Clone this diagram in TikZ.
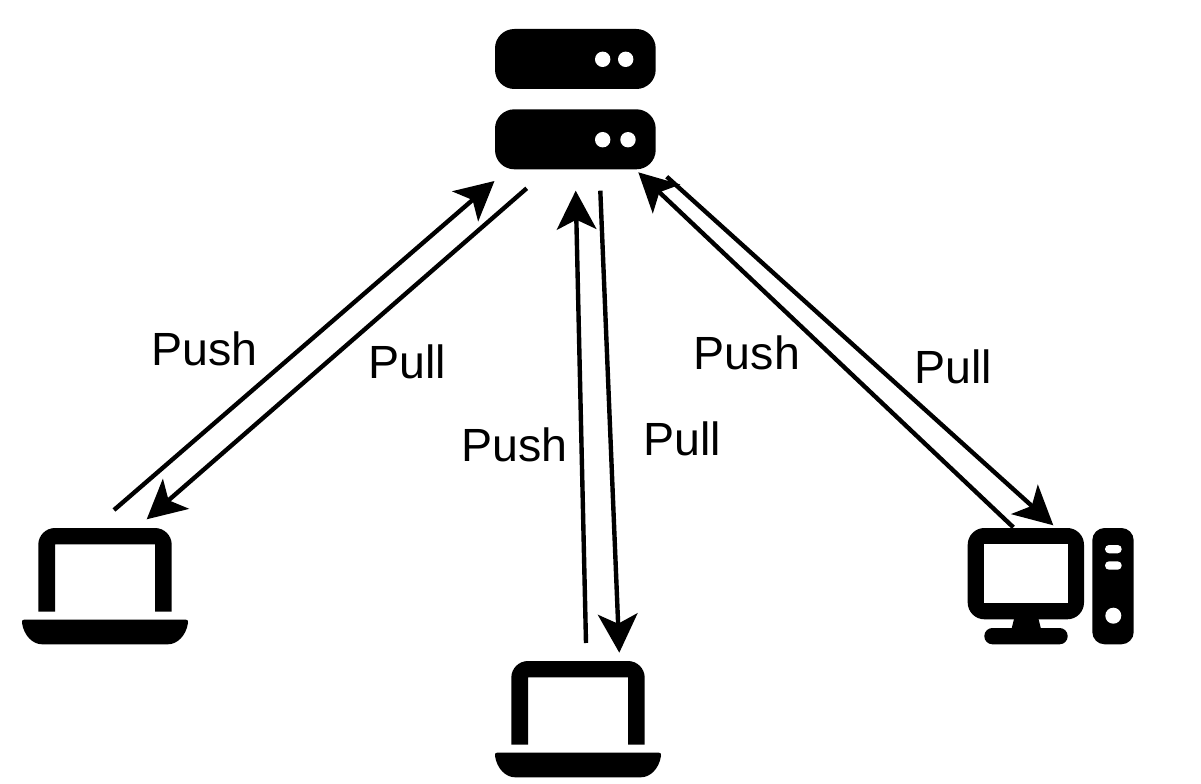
\documentclass[tikz,border=0pt]{standalone}
\usepackage{fontspec}
\setmainfont{Liberation Sans}
\usetikzlibrary{arrows.meta}
\tikzset{
	link/.style={line width=2.5pt, -{Stealth[length=22pt, width=22.5pt, inset=5.5pt]}},
	lbl/.style={font=\fontsize{26.5}{30}\selectfont, inner sep=0pt},
	laptopicon/.pic={
		\fill (16.3,83.7) [rounded corners=9.5pt] -- (16.3,0) -- (149.7,0) [sharp corners] -- (149.7,83.7) -- (133,83.7) -- (133,16.3) -- (33,16.3) -- (33,83.7) -- cycle;
		\fill (2,91.7) -- (164,91.7) .. controls (166,91.7) and (166.5,93) .. (166,95) .. controls (164,108) and (155,116.3) .. (146,116.3) -- (20,116.3) .. controls (11,116.3) and (2,108) .. (0,95) .. controls (-.5,93) and (0,91.7) .. (2,91.7) -- cycle;
	}
}
\begin{document}
\begin{tikzpicture}[x=0.02cm, y=-0.02cm]
	\useasboundingbox (0,0) rectangle (1201,784);
	\fill[rounded corners=11pt] (495,29) rectangle (655.7,89);
	\fill[rounded corners=11pt] (495,109.3) rectangle (655.7,169.3);
	\fill[white] (602.7,59.3) circle (7.7) (625.7,59.3) circle (7.7);
	\fill[white] (602.7,139.7) circle (7.7) (628,139.7) circle (7.7);
	\pic at (22,528) {laptopicon};
	\pic at (495,661) {laptopicon};
	\fill[rounded corners=9.5pt] (967.7,528) rectangle (1084,619.3);
	\fill[white] (984.3,544.3) rectangle (1067.7,602.7);
	\fill (1014,619) -- (1038.5,619) -- (1041,629) -- (1011.5,629) -- cycle;
	\fill[rounded corners=4.6pt] (984.3,628) rectangle (1067.7,644.3);
	\fill[rounded corners=7pt] (1092.3,528) rectangle (1133.7,644.3);
	\fill[white, rounded corners=2.3pt] (1105,545) rectangle (1121.7,553.3);
	\fill[white, rounded corners=2.3pt] (1105,561.3) rectangle (1121.7,569.7);
	\fill[white] (1113.3,615.7) circle (8);
	\coordinate (lefta) at (114,510);
	\coordinate (leftb) at (494.5,181);
	\coordinate (leftc) at (526.7,188.3);
	\coordinate (leftd) at (146.7,519.3);
	\coordinate (mida) at (586,643);
	\coordinate (midb) at (575.7,190.7);
	\coordinate (midc) at (600.3,190.7);
	\coordinate (midd) at (619.3,652.7);
	\coordinate (righta) at (1013.3,527.3);
	\coordinate (rightb) at (638.3,172.3);
	\coordinate (rightc) at (666.7,176.7);
	\coordinate (rightd) at (1053.3,525.3);
	\draw[link] (lefta) -- (leftb);
	\draw[link] (leftc) -- (leftd);
	\draw[link] (mida) -- (midb);
	\draw[link] (midc) -- (midd);
	\draw[link] (righta) -- (rightb);
	\draw[link] (rightc) -- (rightd);
	\node[lbl] (pushleft) at (204.5,349) {Push};
	\node[lbl] (pullleft) at (407,362) {Pull};
	\node[lbl] (pushmid) at (514.5,444.5) {Push};
	\node[lbl] (pullmid) at (682,439) {Pull};
	\node[lbl] (pushright) at (747,353) {Push};
	\node[lbl] (pullright) at (953,366.5) {Pull};
\end{tikzpicture}
\end{document}
